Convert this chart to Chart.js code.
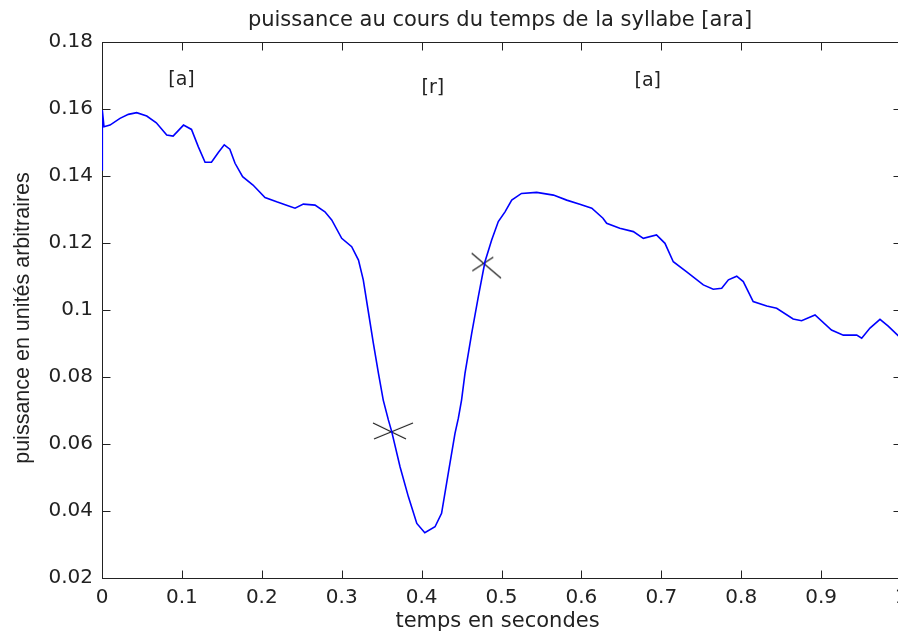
<!DOCTYPE html>
<html>
<head>
<meta charset="utf-8">
<script src="https://cdn.jsdelivr.net/npm/chart.js@4/dist/chart.umd.min.js"></script>
<style>
html,body{margin:0;padding:0;overflow:hidden;background:#fff;}
#wrap{width:912px;height:635px;}
</style>
</head>
<body>
<div id="wrap"><canvas id="c" width="912" height="635"></canvas></div>
<script>
// ---- data ----
const times = [0.000,0.0004,0.0025,0.010,0.0225,0.033,0.0434,0.056,0.068,0.081,0.089,0.102,0.112,0.1206,0.129,0.137,0.1456,0.153,0.160,0.1665,0.176,0.189,0.204,0.2186,0.231,0.2416,0.252,0.2666,0.279,0.2875,0.300,0.3125,0.321,0.327,0.333,0.3396,0.346,0.352,0.3584,0.3626,0.373,0.3834,0.394,0.404,0.4168,0.425,0.4334,0.4418,0.446,0.450,0.4543,0.4627,0.471,0.4793,0.4877,0.496,0.5044,0.5128,0.525,0.544,0.565,0.5816,0.598,0.613,0.627,0.6316,0.648,0.665,0.6775,0.694,0.7046,0.715,0.7318,0.7526,0.765,0.7756,0.784,0.7944,0.8026,0.815,0.832,0.8444,0.865,0.8756,0.8924,0.913,0.9278,0.9446,0.9508,0.9612,0.9737,0.984,1.000];
const power = [0.1418,0.1597,0.1547,0.1552,0.1572,0.1584,0.1589,0.1579,0.1559,0.1522,0.1519,0.1552,0.1539,0.1487,0.1441,0.1441,0.1470,0.1493,0.1480,0.1438,0.1398,0.1373,0.1336,0.1323,0.1313,0.1304,0.1316,0.1313,0.1293,0.1269,0.1214,0.1189,0.1149,0.1090,0.1000,0.0901,0.0811,0.0731,0.0672,0.0637,0.0532,0.0443,0.0363,0.0335,0.0353,0.0393,0.0513,0.0632,0.0677,0.0731,0.0811,0.0930,0.1040,0.1144,0.1209,0.1264,0.1293,0.1328,0.1348,0.1351,0.1343,0.1328,0.1316,0.1304,0.1274,0.1259,0.1244,0.1234,0.1214,0.1224,0.1199,0.1144,0.1114,0.1075,0.1062,0.1065,0.1090,0.1101,0.1085,0.1025,0.1012,0.1005,0.0973,0.0968,0.0985,0.0940,0.0925,0.0925,0.0916,0.0946,0.0972,0.0952,0.0915];
const markerTimes = [0.3617, 0.4793];
const markerPower = [0.0639, 0.1139];
const phonemeLabels = ['[a]', '[r]', '[a]'];
const phonemeTimes = [0.0995, 0.414, 0.683];
const phonemePower = [0.1685, 0.1663, 0.1684];
const xMin = 0, xMax = 1, xStep = 0.1;
const yMin = 0.02, yMax = 0.18, yStep = 0.02;
const titleText = 'puissance au cours du temps de la syllabe [ara]';
const xTitle = 'temps en secondes';
const yTitle = 'puissance en unités arbitraires';

// ---- marker glyphs (shape only) ----
function makeX(w, h, segs) {
  const c = document.createElement('canvas');
  c.width = w; c.height = h;
  const g = c.getContext('2d');
  g.strokeStyle = '#1e1e1e'; g.lineWidth = 1.2;
  segs.forEach(s => { g.beginPath(); g.moveTo(s[0], s[1]); g.lineTo(s[2], s[3]); g.stroke(); });
  return c;
}
const markerStyles = [
  makeX(46, 20, [[5, 2, 38, 18], [6, 18, 45, 2]]),
  makeX(40, 34, [[6.7, 6.8, 36, 31.8], [7.3, 24.5, 28.3, 10.8]])
];

const lineData = times.map((t, i) => ({x: t, y: power[i]}));
const markerData = markerTimes.map((t, i) => ({x: t, y: markerPower[i]}));

const AXIS = '#222';
const tickFmt = v => String(Math.round(v * 100) / 100);

const framePlugin = {
  id: 'frame',
  afterDatasetsDraw(chart) {
    const {ctx, chartArea: a, scales: {x, y}} = chart;
    ctx.save();
    ctx.strokeStyle = AXIS; ctx.lineWidth = 1;
    ctx.beginPath();
    const top = Math.round(a.top) + 0.5, bot = Math.round(a.bottom) + 0.5;
    const lft = Math.round(a.left) + 0.5, rgt = Math.round(a.right) + 0.5;
    ctx.moveTo(lft, top); ctx.lineTo(rgt, top);
    ctx.moveTo(rgt, top); ctx.lineTo(rgt, bot);
    const L = 8;
    x.ticks.forEach((t, i) => {
      const px = Math.round(x.getPixelForTick(i)) + 0.5;
      ctx.moveTo(px, bot); ctx.lineTo(px, bot - L);
      ctx.moveTo(px, top); ctx.lineTo(px, top + L);
    });
    y.ticks.forEach((t, i) => {
      const py = Math.round(y.getPixelForTick(i)) + 0.5;
      ctx.moveTo(lft, py); ctx.lineTo(lft + L, py);
      ctx.moveTo(rgt, py); ctx.lineTo(rgt - L, py);
    });
    ctx.stroke();

    // phoneme annotations at data positions
    ctx.fillStyle = AXIS;
    ctx.font = '19px "DejaVu Sans"';
    ctx.textAlign = 'center'; ctx.textBaseline = 'middle';
    phonemeLabels.forEach((s, i) => {
      ctx.fillText(s, x.getPixelForValue(phonemeTimes[i]), y.getPixelForValue(phonemePower[i]));
    });

    // title
    ctx.textBaseline = 'alphabetic';
    ctx.font = '21px "DejaVu Sans"';
    ctx.fillText(titleText, 500, 26);
    // x title
    ctx.fillText(xTitle, 497.5, 626.5);
    // y title
    ctx.font = '21.5px "Liberation Sans"';
    ctx.translate(28.5, 318);
    ctx.rotate(-Math.PI / 2);
    ctx.fillText(yTitle, 0, 0);
    ctx.restore();
  }
};

new Chart(document.getElementById('c'), {
  type: 'line',
  data: {
    datasets: [
      {data: lineData, borderColor: '#0000ff', borderWidth: 1.6, pointRadius: 0, tension: 0, fill: false},
      {data: markerData, showLine: false, pointStyle: markerStyles, pointRadius: 10, borderWidth: 0}
    ]
  },
  options: {
    responsive: false,
    animation: false,
    devicePixelRatio: 1,
    layout: {padding: {left: 0, right: 11, top: 42, bottom: 0}},
    plugins: {legend: {display: false}, tooltip: {enabled: false}, title: {display: false}},
    scales: {
      x: {
        type: 'linear', min: xMin, max: xMax,
        afterFit: s => { s.height = 57; s.paddingLeft = 0; s.paddingRight = 0; },
        grid: {display: false, drawTicks: false},
        border: {display: true, color: AXIS, width: 1},
        ticks: {stepSize: xStep, padding: 8, color: AXIS, font: {family: 'DejaVu Sans', size: 20}, maxRotation: 0, autoSkip: false, callback: tickFmt}
      },
      y: {
        type: 'linear', min: yMin, max: yMax,
        afterFit: s => { s.width = 102; s.paddingTop = 0; s.paddingBottom = 0; },
        grid: {display: false, drawTicks: false},
        border: {display: true, color: AXIS, width: 1},
        ticks: {stepSize: yStep, padding: 9, color: AXIS, font: {family: 'DejaVu Sans', size: 20}, autoSkip: false, callback: tickFmt}
      }
    }
  },
  plugins: [framePlugin]
});
</script>
</body>
</html>
